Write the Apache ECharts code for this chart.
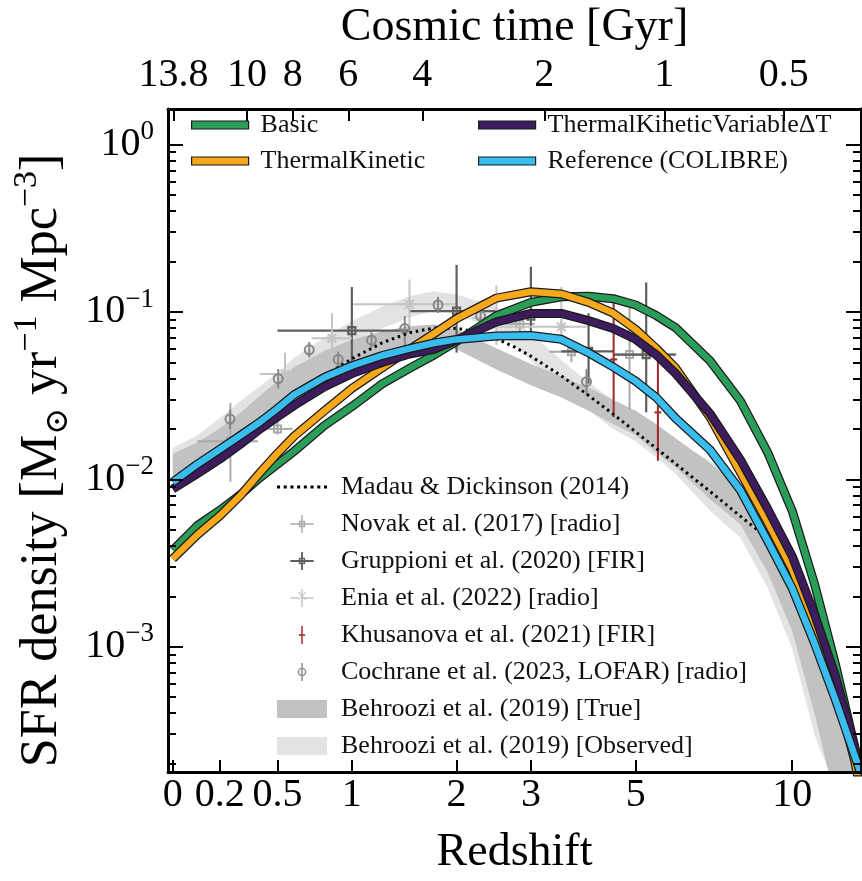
<!DOCTYPE html>
<html>
<head>
<meta charset="utf-8">
<title>Cosmic SFR density</title>
<script src="https://cdn.jsdelivr.net/npm/echarts@6/dist/echarts.min.js"></script>
<style>
  html, body { margin: 0; padding: 0; background: #fff; }
  #chart { width: 862px; height: 881px; }
</style>
</head>
<body>
<div id="chart"></div>
<script>
// ---- simulation curves (SFR density in Msun/yr/Mpc^3 vs redshift) ----
const redshift = [0, 0.1, 0.2, 0.3, 0.4, 0.5, 0.6, 0.8, 1, 1.25, 1.5, 1.75, 2, 2.5, 3, 3.5, 4, 4.5, 5, 5.5, 6, 7, 8, 9, 10, 11, 12, 13, 13.3];
const sfrdBasic = [0.00377, 0.00529, 0.00653, 0.00810, 0.0102, 0.0123, 0.0147, 0.0210, 0.0272, 0.0372, 0.0460, 0.0553, 0.0666, 0.0948, 0.114, 0.123, 0.124, 0.120, 0.110, 0.0951, 0.0806, 0.0511, 0.0294, 0.0145, 0.00647, 0.00235, 0.000787, 0.000254, 0.000176];
const sfrdThermalKinetic = [0.00335, 0.00466, 0.00605, 0.00802, 0.0109, 0.0143, 0.0181, 0.0257, 0.0349, 0.0463, 0.0597, 0.0742, 0.0912, 0.121, 0.132, 0.128, 0.114, 0.0984, 0.0786, 0.0605, 0.0463, 0.0235, 0.0110, 0.00554, 0.00289, 0.00129, 0.000566, 0.000210, 0.000143];
const sfrdVariableDT = [0.00875, 0.0108, 0.0132, 0.0162, 0.0199, 0.0236, 0.0276, 0.0357, 0.0428, 0.0499, 0.0560, 0.0598, 0.0679, 0.0871, 0.0980, 0.0980, 0.0887, 0.0796, 0.0686, 0.0554, 0.0430, 0.0247, 0.0131, 0.00667, 0.00347, 0.00155, 0.000668, 0.000253, 0.000176];
const sfrdReference = [0.00960, 0.0123, 0.0151, 0.0183, 0.0219, 0.0265, 0.0320, 0.0407, 0.0477, 0.0549, 0.0604, 0.0652, 0.0685, 0.0718, 0.0722, 0.0686, 0.0570, 0.0469, 0.0386, 0.0308, 0.0232, 0.0150, 0.00859, 0.00429, 0.00223, 0.00104, 0.000482, 0.000225, 0.000180];

// Madau & Dickinson (2014)
const mdRedshift = [0, 0.1, 0.25, 0.5, 0.75, 1, 1.25, 1.5, 1.75, 2, 2.25, 2.5, 2.75, 3, 3.5, 4, 4.5, 5, 5.5, 6, 7, 8, 8.8];
const mdSfrd = [0.00907, 0.0117, 0.0165, 0.0265, 0.0389, 0.0525, 0.0654, 0.0752, 0.0801, 0.0799, 0.0758, 0.0692, 0.0618, 0.0544, 0.0415, 0.0317, 0.0245, 0.0192, 0.0153, 0.0124, 0.00847, 0.00602, 0.00471];

// Behroozi et al. (2019) bands
const bandRedshift = [0, 0.1, 0.2, 0.3, 0.4, 0.5, 0.6, 0.8, 1, 1.25, 1.5, 1.75, 2, 2.5, 3, 3.5, 4, 4.5, 5, 5.5, 6, 7, 8, 9, 10, 11, 12, 13];
const trueHigh = [0.0142, 0.0166, 0.0202, 0.0250, 0.0315, 0.0387, 0.0467, 0.0587, 0.0681, 0.0766, 0.0821, 0.0841, 0.0784, 0.0607, 0.0488, 0.0412, 0.0352, 0.0299, 0.0257, 0.0213, 0.0176, 0.0125, 0.00900, 0.00503, 0.00264, 0.00126, 0.000536, 0.000163];
const trueLow = [0.0103, 0.0112, 0.0136, 0.0167, 0.0207, 0.0252, 0.0302, 0.0391, 0.0469, 0.0544, 0.0598, 0.0630, 0.0599, 0.0453, 0.0364, 0.0308, 0.0257, 0.0214, 0.0184, 0.0144, 0.0118, 0.00763, 0.00539, 0.00278, 0.00124, 0.000394, 0.000120, 0.000080];
const obsHigh = [0.0154, 0.0183, 0.0232, 0.0294, 0.0359, 0.0435, 0.0531, 0.0706, 0.0878, 0.1078, 0.124, 0.133, 0.127, 0.1075, 0.0742, 0.0516, 0.0379, 0.0298, 0.0252, 0.0206, 0.0170, 0.0129, 0.00929, 0.00525, 0.00278, 0.00132, 0.000559, 0.000167];
const obsLow = [0.0116, 0.0131, 0.0162, 0.0208, 0.0258, 0.0317, 0.0395, 0.0533, 0.0659, 0.0799, 0.0927, 0.1020, 0.0970, 0.0784, 0.0511, 0.0350, 0.0259, 0.0200, 0.0169, 0.0135, 0.0108, 0.00649, 0.00448, 0.00225, 0.000975, 0.000296, 0.000143, 0.000100];

// observations: [z, zLow, zHigh, sfrd, sfrdLow, sfrdHigh]
const novak = [
  [0.25, 0.10, 0.39, 0.0169, 0.00966, 0.0286],
  [0.50, 0.43, 0.59, 0.0200, 0.0185, 0.0229],
  [2.83, 2.61, 3.06, 0.0849, 0.0725, 0.0944],
  [3.68, 3.30, 4.08, 0.0578, 0.0500, 0.0652],
  [4.86, 4.53, 6.03, 0.0556, 0.0261, 0.108]
];
const gruppioni = [
  [1.0, 0.5, 1.5, 0.0774, 0.0426, 0.141],
  [2.0, 1.5, 2.5, 0.101, 0.0571, 0.191],
  [3.0, 2.5, 3.5, 0.0944, 0.0725, 0.186],
  [4.0, 3.5, 4.5, 0.0581, 0.0373, 0.0983],
  [5.25, 4.5, 6.0, 0.0556, 0.0251, 0.150]
];
const enia = [
  [0.544, 0.40, 0.687, 0.0426, 0.0314, 0.0571],
  [0.852, 0.713, 1.0, 0.0696, 0.0507, 0.0983],
  [1.50, 1.01, 1.98, 0.111, 0.0610, 0.156],
  [2.50, 2.19, 2.83, 0.0920, 0.0635, 0.144],
  [3.50, 2.50, 3.96, 0.0815, 0.0635, 0.141]
];
// [z, sfrd, sfrdLow, sfrdHigh]
const khusanova = [
  [4.51, 0.052, 0.0235, 0.118],
  [5.54, 0.0251, 0.0129, 0.0507]
];
const cochrane = [
  [0.248, 0.0229, 0.0200, 0.0261],
  [0.504, 0.0399, 0.0350, 0.0456],
  [0.696, 0.0594, 0.0534, 0.0660],
  [0.897, 0.0520, 0.0467, 0.0580],
  [1.158, 0.0678, 0.0610, 0.0755],
  [1.455, 0.0795, 0.0578, 0.0944],
  [1.792, 0.110, 0.0985, 0.123],
  [2.293, 0.0944, 0.0850, 0.105],
  [3.96, 0.0383, 0.0319, 0.0456]
];

// axis ticks
const zTicks = [0, 0.2, 0.5, 1, 2, 3, 5, 10];
const zTickLabels = ['0', '0.2', '0.5', '1', '2', '3', '5', '10'];
const ageTicks = [13.8, 10, 8, 6, 4, 2, 1, 0.5];
const ageTickLabels = ['13.8', '10', '8', '6', '4', '2', '1', '0.5'];

const FONT = '"Liberation Serif", "DejaVu Serif", serif';
const colors = {
  basic: '#2a9d58',
  thermal: '#f7a81b',
  variable: '#3d1c5e',
  reference: '#38bdee'
};

const lx = z => Math.log10(1 + z);
const ly = v => Math.log10(v);

// flat LCDM age -> redshift, for the cosmic-time axis on top
const H0 = 67.7, Om = 0.307, OL = 1 - Om;
const tPre = 2 / (3 * Math.sqrt(OL)) * (977.8 / H0);
function zOfAge(t) {
  const s = Math.sinh(t / tPre) / Math.sqrt(OL / Om);
  return Math.pow(s, -2 / 3) - 1;
}

const xMin = -0.008, xMax = 1.157;
const yMin = -3.749, yMax = 0.213;

const zTickPos = zTicks.map(lx);
const ageTickPos = ageTicks.map(t => lx(zOfAge(t)));
const yMajor = [-3, -2, -1, 0];
const yMinor = [];
for (let n = -4; n <= 0; n++) {
  for (let k = 2; k <= 9; k++) {
    const v = n + Math.log10(k);
    if (v > yMin && v < yMax) yMinor.push(v);
  }
}

function labelAt(pos, labels, v) {
  let best = 0;
  pos.forEach((p, i) => { if (Math.abs(p - v) < Math.abs(pos[best] - v)) best = i; });
  return labels[best];
}

const lineBlack = { color: '#000', width: 3 };
const tickBlack = { color: '#000', width: 2 };

function curve(zs, vs) {
  return zs.map((z, i) => [lx(z), ly(vs[i])]);
}

function modelPair(name, zs, vs, color, zIdx) {
  const pts = curve(zs, vs);
  return [
    {
      type: 'line', name: name + ' edge', data: pts, symbol: 'none', z: zIdx, silent: true,
      lineStyle: { color: '#1b1b1b', width: 9, join: 'round' }
    },
    {
      type: 'line', name, data: pts, symbol: 'none', z: zIdx + 1, silent: true,
      itemStyle: { color },
      lineStyle: { color, width: 6.5, join: 'round' }
    }
  ];
}

function bandSeries(name, zs, lo, hi, color) {
  return {
    type: 'custom', name, clip: true, z: 1, silent: true,
    itemStyle: { color },
    data: [[lx(zs[0]), ly(lo[0])]],
    encode: { x: 0, y: 1 },
    renderItem: (params, api) => {
      const pts = zs.map((z, i) => api.coord([lx(z), ly(hi[i])]));
      for (let i = zs.length - 1; i >= 0; i--) pts.push(api.coord([lx(zs[i]), ly(lo[i])]));
      return { type: 'polygon', shape: { points: pts }, style: { fill: color } };
    }
  };
}

function markerShape(kind, c, color, w) {
  const st = { stroke: color, lineWidth: w, fill: 'transparent' };
  if (kind === 'square') {
    return { type: 'rect', shape: { x: c[0] - 3.5, y: c[1] - 3.5, width: 7, height: 7 }, style: st };
  }
  if (kind === 'circle') {
    return { type: 'circle', shape: { cx: c[0], cy: c[1], r: 4.5 }, style: st };
  }
  if (kind === 'star') {
    const r = 6, d = 4.3;
    return {
      type: 'group', children: [
        { type: 'line', shape: { x1: c[0] - r, y1: c[1], x2: c[0] + r, y2: c[1] }, style: st },
        { type: 'line', shape: { x1: c[0], y1: c[1] - r, x2: c[0], y2: c[1] + r }, style: st },
        { type: 'line', shape: { x1: c[0] - d, y1: c[1] - d, x2: c[0] + d, y2: c[1] + d }, style: st },
        { type: 'line', shape: { x1: c[0] - d, y1: c[1] + d, x2: c[0] + d, y2: c[1] - d }, style: st }
      ]
    };
  }
  // short horizontal tick
  return { type: 'line', shape: { x1: c[0] - 3.5, y1: c[1], x2: c[0] + 3.5, y2: c[1] }, style: st };
}

function errorSeries(name, rows, color, width, marker) {
  return {
    type: 'custom', name, z: 2, silent: true,
    itemStyle: { color },
    data: rows.map(r => [lx(r[0]), ly(r[3]), lx(r[1]), lx(r[2]), ly(r[4]), ly(r[5])]),
    encode: { x: 0, y: 1 },
    renderItem: (params, api) => {
      const x = api.value(0), y = api.value(1);
      const c = api.coord([x, y]);
      const st = { stroke: color, lineWidth: width };
      const parts = [];
      if (api.value(3) > api.value(2)) {
        const a = api.coord([api.value(2), y]), b = api.coord([api.value(3), y]);
        parts.push({ type: 'line', shape: { x1: a[0], y1: a[1], x2: b[0], y2: b[1] }, style: st });
      }
      const a = api.coord([x, api.value(4)]), b = api.coord([x, api.value(5)]);
      parts.push({ type: 'line', shape: { x1: a[0], y1: a[1], x2: b[0], y2: b[1] }, style: st });
      parts.push(markerShape(marker, c, color, width));
      return { type: 'group', children: parts };
    }
  };
}

const yOnly = rows => rows.map(r => [r[0], r[0], r[0], r[1], r[2], r[3]]);

const series = [
  bandSeries('Behroozi et al. (2019) [Observed]', bandRedshift, obsLow, obsHigh, '#e3e3e3'),
  bandSeries('Behroozi et al. (2019) [True]', bandRedshift, trueLow, trueHigh, '#c2c2c2'),
  errorSeries('Novak et al. (2017) [radio]', novak, '#a9a9a9', 2, 'square'),
  errorSeries('Gruppioni et al. (2020) [FIR]', gruppioni, '#5f5f5f', 2.2, 'square'),
  errorSeries('Enia et al. (2022) [radio]', enia, '#c4c4c4', 2, 'star'),
  errorSeries('Khusanova et al. (2021) [FIR]', yOnly(khusanova), '#a32626', 2, 'tick'),
  errorSeries('Cochrane et al. (2023, LOFAR) [radio]', yOnly(cochrane), '#878787', 2, 'circle'),
  {
    type: 'line', name: 'Madau & Dickinson (2014)', data: curve(mdRedshift, mdSfrd),
    symbol: 'none', z: 3, silent: true, itemStyle: { color: '#000' },
    lineStyle: { color: '#000', width: 3, type: [2.5, 3.8] }
  },
  ...modelPair('Basic', redshift, sfrdBasic, colors.basic, 4),
  ...modelPair('ThermalKinetic', redshift, sfrdThermalKinetic, colors.thermal, 6),
  ...modelPair('ThermalKineticVariableΔT', redshift, sfrdVariableDT, colors.variable, 8),
  ...modelPair('Reference (COLIBRE)', redshift, sfrdReference, colors.reference, 10)
];

const legendText = { fontFamily: FONT, fontSize: 26, color: '#111', lineHeight: 28 };
const lineIcon = color => ({ icon: 'rect', itemStyle: { color, borderColor: '#1b1b1b', borderWidth: 1.2 } });

let dotsPath = 'path://';
for (let i = 0; i < 8; i++) dotsPath += 'M' + (i * 6.6) + ',0h3v3h-3z ';
const crossPath = 'path://M0,9.2h26v1.6h-26z M12.2,0h1.6v20h-1.6z';
const iconNovak = crossPath + ' M9.5,6.5h7v7h-7z M11,8v4h4v-4z';
const iconGruppioni = 'path://M0,9h26v2h-26z M12,0h2v20h-2z M9.5,6.5h7v7h-7z M11,8v4h4v-4z';
const iconEnia = crossPath + ' M8.5,4.3l1.1,-1.1l8,8l-1.1,1.1z M17.5,4.3l-1.1,-1.1l-8,8l1.1,1.1z';
const iconKhusanova = 'path://M3.2,0h1.6v20h-1.6z M0.5,9.2h7v1.6h-7z';
const iconCochrane = 'path://M5.2,0h1.6v20h-1.6z M10.8,10A4.8,4.8 0 1,1 1.2,10A4.8,4.8 0 1,1 10.8,10Z M9.2,10A3.2,3.2 0 1,0 2.8,10A3.2,3.2 0 1,0 9.2,10Z';

const option = {
  animation: false,
  backgroundColor: '#fff',
  grid: { left: 168, right: 1, top: 95, bottom: 98 },
  legend: [
    {
      orient: 'vertical', left: 186, top: 106, itemWidth: 57, itemHeight: 8, itemGap: 8,
      selectedMode: false, textStyle: Object.assign({ padding: [0, 0, 0, 7] }, legendText),
      data: [
        Object.assign({ name: 'Basic' }, lineIcon(colors.basic)),
        Object.assign({ name: 'ThermalKinetic' }, lineIcon(colors.thermal))
      ]
    },
    {
      orient: 'vertical', left: 473, top: 106, itemWidth: 57, itemHeight: 8, itemGap: 8,
      selectedMode: false, textStyle: Object.assign({ padding: [0, 0, 0, 7] }, legendText),
      data: [
        Object.assign({ name: 'ThermalKineticVariableΔT' }, lineIcon(colors.variable)),
        Object.assign({ name: 'Reference (COLIBRE)' }, lineIcon(colors.reference))
      ]
    },
    {
      orient: 'vertical', left: 272, top: 468, itemWidth: 50, itemHeight: 18, itemGap: 9,
      selectedMode: false, textStyle: Object.assign({ padding: [0, 0, 0, 9] }, legendText),
      data: [
        { name: 'Madau & Dickinson (2014)', icon: dotsPath, itemStyle: { color: '#000' } },
        { name: 'Novak et al. (2017) [radio]', icon: iconNovak, itemStyle: { color: '#a9a9a9' } },
        { name: 'Gruppioni et al. (2020) [FIR]', icon: iconGruppioni, itemStyle: { color: '#5f5f5f' } },
        { name: 'Enia et al. (2022) [radio]', icon: iconEnia, itemStyle: { color: '#c4c4c4' } },
        { name: 'Khusanova et al. (2021) [FIR]', icon: iconKhusanova, itemStyle: { color: '#a32626' } },
        { name: 'Cochrane et al. (2023, LOFAR) [radio]', icon: iconCochrane, itemStyle: { color: '#878787' } },
        { name: 'Behroozi et al. (2019) [True]', icon: 'rect', itemStyle: { color: '#c2c2c2' } },
        { name: 'Behroozi et al. (2019) [Observed]', icon: 'rect', itemStyle: { color: '#e3e3e3' } }
      ]
    }
  ],
  xAxis: [
    {
      type: 'value', position: 'bottom', min: xMin, max: xMax, z: 20,
      axisLine: { show: true, onZero: false, lineStyle: lineBlack },
      axisTick: { show: true, inside: true, length: 12, lineStyle: tickBlack, customValues: zTickPos },
      axisLabel: {
        customValues: zTickPos, margin: 3, fontFamily: FONT, fontSize: 40, lineHeight: 40, color: '#000',
        formatter: v => labelAt(zTickPos, zTickLabels, v)
      },
      splitLine: { show: false },
      name: 'Redshift', nameLocation: 'middle', nameGap: 58,
      nameTextStyle: { fontFamily: FONT, fontSize: 46, color: '#000' }
    },
    {
      type: 'value', position: 'top', min: xMin, max: xMax, z: 20,
      axisLine: { show: true, onZero: false, lineStyle: lineBlack },
      axisTick: { show: true, inside: true, length: 12, lineStyle: tickBlack, customValues: ageTickPos },
      axisLabel: {
        customValues: ageTickPos, margin: 13, fontFamily: FONT, fontSize: 40, lineHeight: 40, color: '#000',
        formatter: v => labelAt(ageTickPos, ageTickLabels, v)
      },
      splitLine: { show: false },
      name: 'Cosmic time [Gyr]', nameLocation: 'middle', nameGap: 46,
      nameTextStyle: { fontFamily: FONT, fontSize: 46, color: '#000' }
    }
  ],
  yAxis: [
    {
      type: 'value', position: 'left', min: yMin, max: yMax, z: 20,
      axisLine: { show: true, onZero: false, lineStyle: lineBlack },
      axisTick: { show: true, inside: true, length: 15, lineStyle: tickBlack, customValues: yMajor },
      axisLabel: {
        customValues: yMajor, margin: 14,
        formatter: v => '{b|10}{s|' + (v < 0 ? '−' : '') + Math.abs(Math.round(v)) + '}',
        rich: {
          b: { fontFamily: FONT, fontSize: 40, color: '#000', lineHeight: 52 },
          s: { fontFamily: FONT, fontSize: 27, color: '#000', lineHeight: 28, verticalAlign: 'top' }
        }
      },
      splitLine: { show: false },
      name: '{t|SFR density [M}{sub|⊙}{t| yr}{sup|−1}{t| Mpc}{sup|−3}{t|]}',
      nameLocation: 'middle', nameRotate: 90, nameGap: 91,
      nameTextStyle: {
        padding: [0, 40, 0, 0],
        rich: {
          t: { fontFamily: FONT, fontSize: 52, color: '#000', lineHeight: 64 },
          sup: { fontFamily: FONT, fontSize: 34, color: '#000', lineHeight: 36, verticalAlign: 'top' },
          sub: { fontFamily: FONT, fontSize: 32, color: '#000', lineHeight: 34, verticalAlign: 'bottom' }
        }
      }
    },
    {
      type: 'value', position: 'left', min: yMin, max: yMax, z: 20,
      axisLine: { show: false, onZero: false },
      axisTick: { show: true, inside: true, length: 8, lineStyle: tickBlack, customValues: yMinor },
      axisLabel: { show: false },
      splitLine: { show: false }
    },
    {
      type: 'value', position: 'right', min: yMin, max: yMax, z: 20,
      axisLine: { show: true, onZero: false, lineStyle: lineBlack },
      axisTick: { show: true, inside: true, length: 15, lineStyle: tickBlack, customValues: yMajor },
      axisLabel: { show: false },
      splitLine: { show: false }
    },
    {
      type: 'value', position: 'right', min: yMin, max: yMax, z: 20,
      axisLine: { show: false, onZero: false },
      axisTick: { show: true, inside: true, length: 8, lineStyle: tickBlack, customValues: yMinor },
      axisLabel: { show: false },
      splitLine: { show: false }
    }
  ],
  series
};

const chart = echarts.init(document.getElementById('chart'));
chart.setOption(option);
</script>
</body>
</html>
